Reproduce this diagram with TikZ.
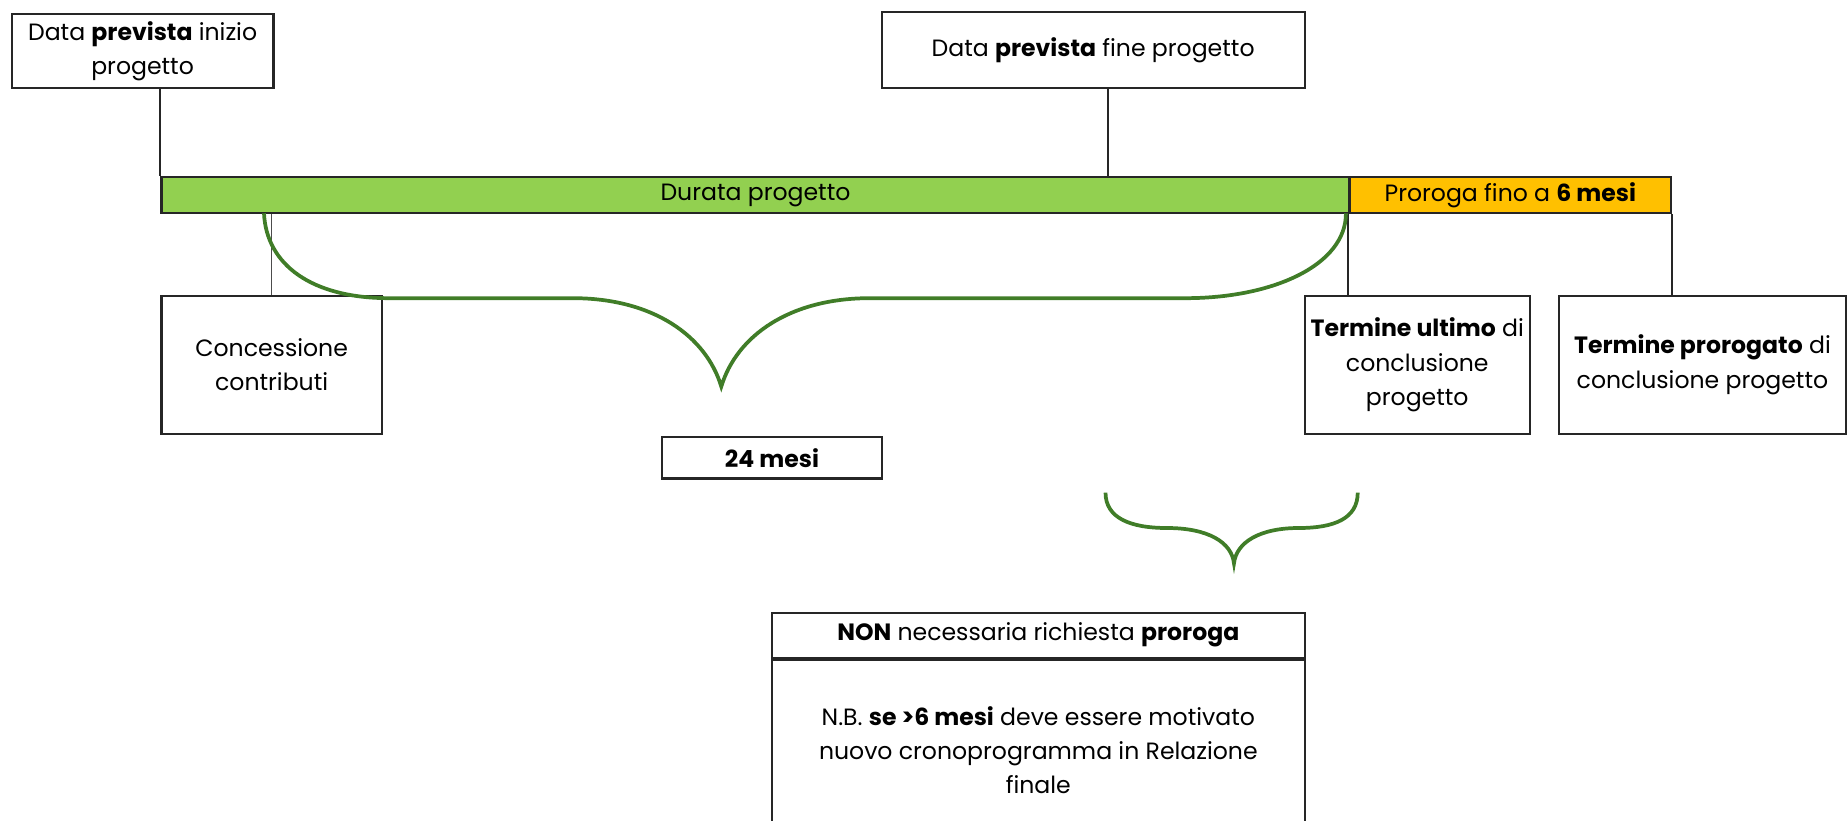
\documentclass[tikz,border=0pt]{standalone}
\usepackage{fontspec}
\setmainfont{Poppins}
\usetikzlibrary{positioning}
\definecolor{barGreen}{RGB}{146,208,80}
\definecolor{barOrange}{RGB}{255,192,0}
\definecolor{braceGreen}{RGB}{64,125,40}
\tikzset{
  box/.style={draw=black!85, line width=1.1pt, fill=white, align=center, inner sep=1pt,
    font=\fontsize{12}{17.5}\selectfont},
  bar/.style={box, minimum height=18.6pt},
  link/.style={draw=black!85, line width=1.1pt},
  brace/.style={draw=braceGreen, line width=1.9pt},
}

\begin{document}
\begin{tikzpicture}[x=0.6pt, y=-0.6pt]
	\useasboundingbox (0,0) rectangle (1568,696);
	\node [box, minimum width=133.2pt, minimum height=37.8pt] (inizio) at (121,43.5) {Data \textbf{prevista} inizio\\progetto};
	\node [box, minimum width=215.4pt, minimum height=39pt] (fine) at (927.5,42.5) {Data \textbf{prevista} fine progetto};
	\node [bar, fill=barGreen, minimum width=604.8pt] (durata) at (641,165.5) {Durata progetto};
	\node [bar, fill=barOrange, minimum width=163.8pt] (proroga) at (1281.5,165.5) {Proroga fino a \textbf{6 mesi}};
	\node [box, minimum width=112.2pt, minimum height=70.2pt] (concessione) at (230.5,309.5) {Concessione\\contributi};
	\node [box, minimum width=114.6pt, minimum height=70.2pt] (ultimo) at (1202.5,309.5) {\textbf{Termine ultimo} di\\conclusione\\progetto};
	\node [box, minimum width=145.8pt, minimum height=70.2pt] (prorogato) at (1444.5,309.5) {\textbf{Termine prorogato} di\\conclusione progetto};
	\node [box, minimum width=111.6pt, minimum height=21pt] (mesi) at (655,388.5) {\textbf{24 mesi}};
	\node [box, minimum width=271.2pt, minimum height=22.8pt] (non) at (881,539) {\textbf{NON} necessaria richiesta \textbf{proroga}};
	\node [box, minimum width=271.2pt, minimum height=92pt, below=0pt of non] (nb) {N.B. \textbf{se >6 mesi} deve essere motivato\\nuovo cronoprogramma in Relazione\\finale};
	\coordinate (t) at (940,150);
	
	% connectors to the bar
	\draw [link] (durata.north west) -- (durata.north west |- inizio.south);
	\draw [link] (t) -- (t |- fine.south);
	\draw [link, draw=black!70, line width=0.8pt] (concessione.north) -- (concessione.north |- durata.south);
	\draw [link] (proroga.south west) -- (proroga.south west |- ultimo.north);
	\draw [link] (proroga.south east) -- (proroga.south east |- prorogato.north);
	
	% braces
	\draw [brace] (224,181) .. controls (226,225) and (265,253) .. (330,253) -- (486,253)
		.. controls (554,253) and (599,285) .. (612,328) .. controls (625,285) and (670,253) .. (738,253)
		-- (1006,253) .. controls (1080,253) and (1142,225) .. (1142,181);
	\draw [brace] (938,418) .. controls (938,440) and (960,448) .. (990,448)
		.. controls (1025,448) and (1045,460) .. (1047,478) .. controls (1049,460) and (1069,448) .. (1102,448)
		.. controls (1132,448) and (1152,440) .. (1152,418);
\end{tikzpicture}
\end{document}
